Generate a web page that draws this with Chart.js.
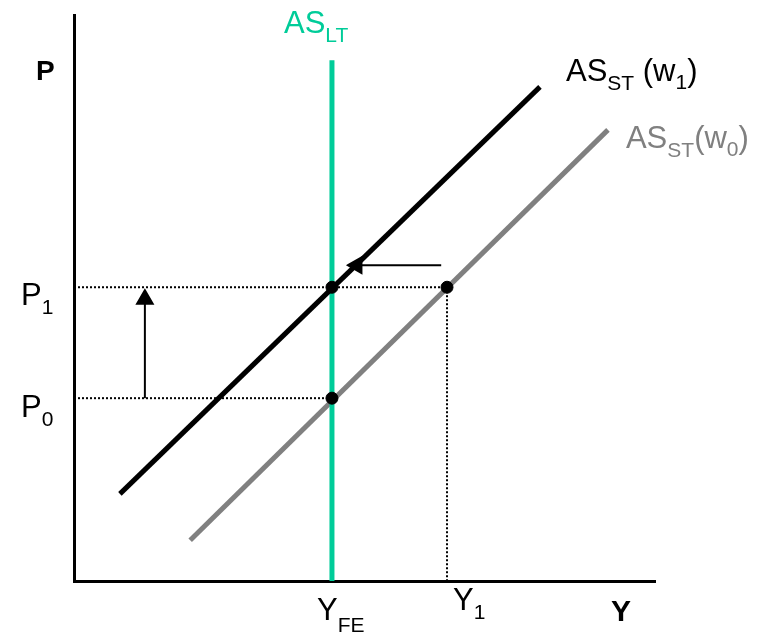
<!DOCTYPE html>
<html>
<head>
<meta charset="utf-8">
<script src="https://cdn.jsdelivr.net/npm/chart.js@4/dist/chart.umd.min.js"></script>
<style>
  html, body { margin: 0; padding: 0; background: #fff; }
  #wrap { width: 767px; height: 634px; }
</style>
</head>
<body>
<div id="wrap"><canvas id="chart" width="767" height="634"></canvas></div>
<script>
// Key levels (axis units 0..100)
const yFE = 44.4;
const y1 = 64.2;
const p0 = 32.3;
const p1 = 51.9;

// Curves
const asLongX = [yFE, yFE];
const asLongY = [92, 0];
const asW1X = [7.9, 80.2];
const asW1Y = [15.4, 87.3];
const asW0X = [20.0, 91.9];
const asW0Y = [7.2, 79.7];

// Equilibrium points
const eqX = [yFE, y1, yFE];
const eqY = [p1, p1, p0];

// Arrows
const upArrowX = [12.2, 12.2];
const upArrowY = [p0, 49.8];
const leftArrowX = [63.2, 48.7];
const leftArrowY = [55.8, 55.8];

const GREEN = '#00CC99';
const GRAY = '#808080';
const FONT = '"Liberation Sans", Arial, sans-serif';

function pts(xs, ys) {
    return xs.map((x, i) => ({ x: x, y: ys[i] }));
}

function dotted(xs, ys) {
    return {
        type: 'line', data: pts(xs, ys), borderColor: '#000', borderWidth: 2,
        borderDash: [2, 2], pointRadius: 0, order: 5
    };
}

// draw a label made of normal and subscript parts
function drawParts(ctx, x, y, color, parts) {
    ctx.fillStyle = color;
    ctx.textBaseline = 'alphabetic';
    ctx.textAlign = 'left';
    parts.forEach(p => {
        ctx.font = p.font;
        ctx.fillText(p.t, x, y + (p.dy || 0));
        x += ctx.measureText(p.t).width;
    });
}

const labelPlugin = {
    id: 'labels',
    afterDatasetsDraw(chart) {
        const ctx = chart.ctx;
        const xs = chart.scales.x, ys = chart.scales.y;
        const area = chart.chartArea;
        const main = '31px ' + FONT;
        const sub = '21px ' + FONT;
        const bold = 'bold 28px ' + FONT;
        ctx.save();
        drawParts(ctx, area.left - 38, area.top + 65, '#000', [{ t: 'P', font: bold }]);
        drawParts(ctx, area.right - 44, area.bottom + 40, '#000', [{ t: 'Y', font: 'bold 30px ' + FONT }]);

        drawParts(ctx, area.left - 53, ys.getPixelForValue(p1) + 18, '#000',
            [{ t: 'P', font: main }, { t: '1', font: sub, dy: 9 }]);
        drawParts(ctx, area.left - 53, ys.getPixelForValue(p0) + 19, '#000',
            [{ t: 'P', font: main }, { t: '0', font: sub, dy: 9 }]);

        drawParts(ctx, xs.getPixelForValue(yFE) - 15, area.bottom + 39, '#000',
            [{ t: 'Y', font: main }, { t: 'FE', font: sub, dy: 12 }]);
        drawParts(ctx, xs.getPixelForValue(y1) + 6, area.bottom + 29, '#000',
            [{ t: 'Y', font: main }, { t: '1', font: sub, dy: 9 }]);

        drawParts(ctx, xs.getPixelForValue(asLongX[0]) - 48, ys.getPixelForValue(asLongY[0]) - 27, GREEN,
            [{ t: 'AS', font: main }, { t: 'LT', font: sub, dy: 9 }]);

        drawParts(ctx, xs.getPixelForValue(asW1X[1]) + 26, ys.getPixelForValue(asW1Y[1]) - 6, '#000',
            [{ t: 'AS', font: main }, { t: 'ST', font: sub, dy: 9 }, { t: ' (w', font: main },
             { t: '1', font: sub, dy: 8 }, { t: ')', font: main }]);
        drawParts(ctx, xs.getPixelForValue(asW0X[1]) + 18, ys.getPixelForValue(asW0Y[1]) + 18, GRAY,
            [{ t: 'AS', font: main }, { t: 'ST', font: sub, dy: 9 }, { t: '(w', font: main },
             { t: '0', font: sub, dy: 8 }, { t: ')', font: main }]);
        ctx.restore();
    }
};

new Chart(document.getElementById('chart'), {
    type: 'scatter',
    data: {
        datasets: [
            {
                type: 'scatter', data: pts(eqX, eqY), backgroundColor: '#000',
                borderColor: '#000', pointRadius: 6, order: 0
            },
            {
                type: 'line', data: pts(asW1X, asW1Y), borderColor: '#000', borderWidth: 5,
                pointRadius: 0, order: 2
            },
            {
                type: 'line', data: pts(asLongX, asLongY), borderColor: GREEN, borderWidth: 5,
                pointRadius: 0, order: 3
            },
            {
                type: 'line', data: pts(asW0X, asW0Y), borderColor: GRAY, borderWidth: 5,
                pointRadius: 0, order: 4
            },
            dotted([0, y1], [p1, p1]),
            dotted([0, yFE], [p0, p0]),
            dotted([y1, y1], [p1, 0]),
            dotted([yFE, yFE], [p0, 0]),
            {
                type: 'line', data: pts(upArrowX, upArrowY), borderColor: '#000', borderWidth: 2,
                backgroundColor: '#000', pointStyle: 'triangle', pointRadius: [0, 9],
                pointRotation: 0, order: 1
            },
            {
                type: 'line', data: pts(leftArrowX, leftArrowY), borderColor: '#000', borderWidth: 2,
                backgroundColor: '#000', pointStyle: 'triangle', pointRadius: [0, 9],
                pointRotation: -90, order: 1
            }
        ]
    },
    options: {
        responsive: false,
        animation: false,
        layout: { padding: { left: 74, right: 112, top: 15, bottom: 53 } },
        plugins: { legend: { display: false }, tooltip: { enabled: false } },
        scales: {
            x: {
                type: 'linear', min: 0, max: 100,
                grid: { display: false, drawTicks: false },
                border: { display: true, color: '#000', width: 3 },
                ticks: { display: false }
            },
            y: {
                type: 'linear', min: 0, max: 100,
                grid: { display: false, drawTicks: false },
                border: { display: true, color: '#000', width: 3 },
                ticks: { display: false }
            }
        }
    },
    plugins: [labelPlugin]
});
</script>
</body>
</html>
